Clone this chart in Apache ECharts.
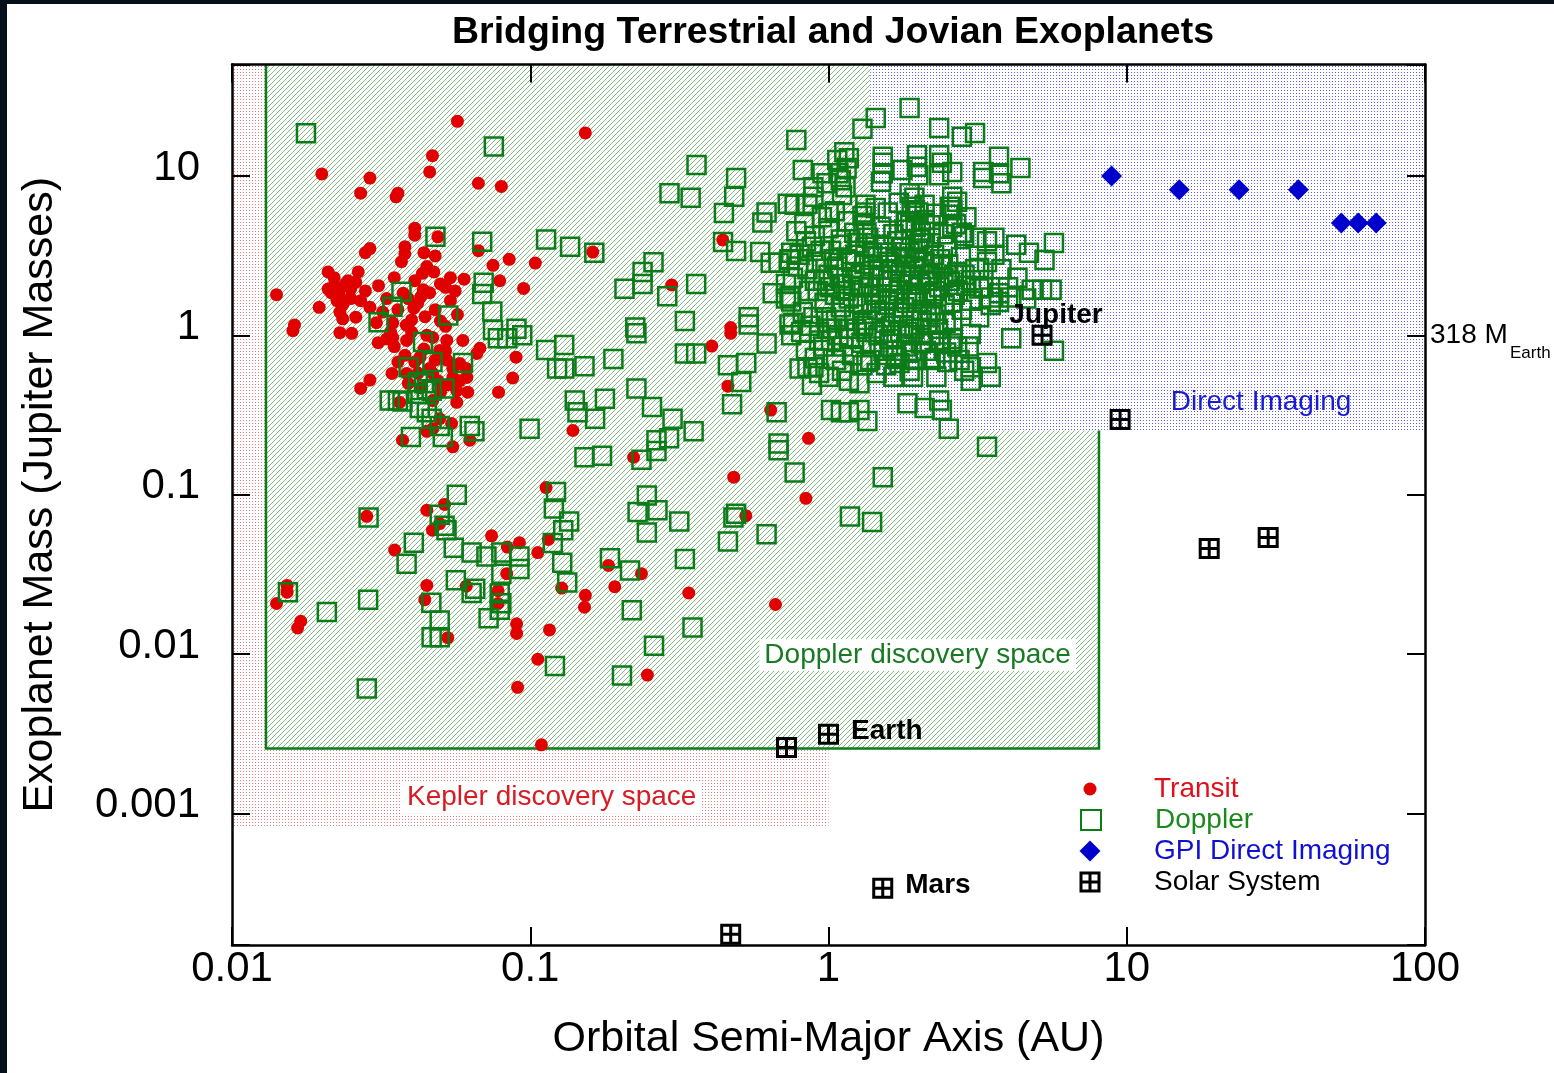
<!DOCTYPE html>
<html>
<head>
<meta charset="utf-8">
<title>Bridging Terrestrial and Jovian Exoplanets</title>
<script src="https://cdn.jsdelivr.net/npm/echarts@6/dist/echarts.min.js"></script>
<style>
  html, body { margin: 0; padding: 0; background: #fff; }
  #chart { position: absolute; left: 0; top: 0; width: 1554px; height: 1073px; }
  .edge-top { position: absolute; left: 0; top: 0; width: 1554px; height: 4px; background: #06101a; }
  .edge-left { position: absolute; left: 0; top: 0; width: 7px; height: 1073px; background: #06101a; }
</style>
</head>
<body>
<div id="chart"></div>
<div class="edge-top"></div>
<div class="edge-left"></div>
<script>
// ---- axis ranges (AU, Jupiter masses) ----
const xRange = [0.01, 100];
const yRange = [1.5e-4, 50];
const xTickLabels = ['0.01', '0.1', '1', '10', '100'];
const yTickLabels = ['0.001', '0.01', '0.1', '1', '10'];

// ---- discovery-space boxes: [aMin, aMax, mMin, mMax] ----
const keplerSpace = [0.01, 1.0, 8.2e-4, 50];
const dopplerSpace = [0.013, 8.07, 2.56e-3, 50];
const imagingSpace = [1.38, 100, 0.253, 50];

// ---- planets: [semi-major axis (AU), mass (M_Jup)] ----
const transit = [
  [0.057, 22], [0.020, 10.3], [0.029, 9.7], [0.027, 7.8], [0.036, 7.8], [0.0355, 7.4],
  [0.047, 13.4], [0.046, 10.6], [0.067, 9.0], [0.080, 8.6], [0.041, 4.7], [0.041, 4.25],
  [0.049, 4.15], [0.067, 3.4], [0.029, 3.5], [0.028, 3.3], [0.038, 3.6], [0.038, 3.25],
  [0.044, 3.3], [0.048, 3.15], [0.085, 3.0], [0.075, 2.75], [0.021, 2.5], [0.0265, 2.5],
  [0.022, 2.05], [0.024, 2.1], [0.0215, 1.85], [0.023, 1.75], [0.025, 1.95], [0.0225, 1.65],
  [0.0435, 2.45], [0.0475, 2.5], [0.054, 2.3], [0.060, 2.25], [0.041, 2.2], [0.050, 2.1],
  [0.079, 2.2], [0.095, 1.97], [0.0141, 1.8], [0.031, 2.05], [0.0196, 1.5], [0.0438, 1.93],
  [0.043, 1.75], [0.0375, 1.84], [0.027, 1.65], [0.029, 1.5], [0.054, 1.65], [0.0407, 1.48],
  [0.036, 1.45], [0.0444, 1.31], [0.023, 1.4], [0.0235, 1.27], [0.026, 1.3], [0.0162, 1.16],
  [0.0305, 1.2], [0.0346, 1.2], [0.0384, 1.16], [0.050, 1.23], [0.052, 1.14],
  [0.0346, 0.97], [0.0385, 0.93], [0.0471, 0.97], [0.0525, 0.93], [0.0594, 0.93], [0.0497, 0.805],
  [0.0427, 0.73], [0.0525, 0.70], [0.058, 0.667], [0.0344, 0.577], [0.0385, 0.577], [0.0471, 0.577],
  [0.055, 0.545], [0.0613, 0.545], [0.0567, 0.45], [0.0617, 0.44], [0.0471, 0.39], [0.0567, 0.38],
  [0.0365, 0.38], [0.0678, 0.83], [0.0662, 0.77], [0.0309, 0.90], [0.023, 1.04], [0.0252, 1.03],
  [0.016, 1.07], [0.029, 0.524], [0.027, 0.465], [0.0896, 0.73], [0.0873, 0.54], [0.0783, 0.44],
  [0.0497, 0.30], [0.0545, 0.28], [0.0471, 0.26], [0.045, 0.25], [0.0373, 0.22], [0.055, 0.20],
  [0.0627, 0.22], [0.0283, 0.0733], [0.045, 0.080], [0.0516, 0.087], [0.047, 0.060], [0.0497, 0.066],
  [0.0351, 0.045], [0.0742, 0.0553], [0.0838, 0.047], [0.092, 0.050],
  [0.0153, 0.027], [0.0153, 0.0245], [0.0141, 0.0208], [0.017, 0.0161], [0.0166, 0.0146],
  [0.045, 0.027], [0.0443, 0.022], [0.061, 0.0267], [0.0834, 0.032], [0.078, 0.025], [0.078, 0.0208],
  [0.0529, 0.0127], [0.090, 0.0155], [0.090, 0.0135], [0.0907, 0.0062],
  [0.183, 0.036], [0.192, 0.0265], [0.236, 0.032], [0.1275, 0.026], [0.153, 0.0234], [0.152, 0.0197],
  [0.116, 0.0142], [0.106, 0.0093], [0.247, 0.0074], [0.34, 0.0242], [0.664, 0.0205], [0.109, 0.0027],
  [0.406, 0.857], [0.47, 1.03], [0.46, 0.48], [0.64, 0.34], [0.139, 0.253], [0.222, 0.172],
  [0.481, 0.129], [0.113, 0.111], [0.528, 0.074], [0.115, 0.0525], [0.106, 0.0434],
  [0.153, 18.6], [0.104, 2.84], [0.162, 3.33], [0.298, 2.07], [0.442, 3.97], [0.47, 1.12],
  [0.857, 0.226], [0.84, 0.095],
  // crowded hot Jupiters
  [0.035, 0.85], [0.038, 0.75], [0.041, 0.68], [0.044, 0.82], [0.046, 0.62], [0.049, 0.52],
  [0.052, 0.80], [0.055, 0.62], [0.043, 0.47], [0.039, 0.50], [0.036, 0.68], [0.050, 0.44],
  [0.053, 0.49], [0.058, 0.52], [0.061, 0.62], [0.045, 1.0], [0.040, 1.05], [0.033, 0.95],
  [0.048, 0.70], [0.042, 0.58], [0.022, 2.3], [0.023, 1.95], [0.0245, 2.2], [0.021, 1.95],
  [0.0235, 1.55], [0.025, 1.7], [0.028, 1.9], [0.026, 2.15], [0.033, 1.7], [0.032, 1.4],
  [0.039, 1.7], [0.042, 1.6], [0.046, 1.85], [0.035, 2.3], [0.037, 2.9], [0.045, 2.7],
  [0.052, 2.0], [0.056, 1.9], [0.040, 1.25], [0.048, 1.45], [0.057, 1.35], [0.034, 1.05]
];

const doppler = [
  // hot and warm Jupiters inside 0.1 AU
  [0.0177, 18.5], [0.0755, 15.3], [0.0481, 4.16], [0.069, 3.87], [0.0698, 2.14], [0.069, 1.82],
  [0.037, 1.88], [0.0345, 1.51], [0.0531, 1.33], [0.0746, 1.41], [0.031, 1.21], [0.0899, 1.1],
  [0.075, 1.08], [0.0437, 0.91], [0.047, 0.68], [0.0391, 0.63], [0.0595, 0.67], [0.042, 0.51],
  [0.044, 0.50], [0.045, 0.46], [0.0418, 0.43], [0.0516, 0.465], [0.0467, 0.45], [0.0338, 0.39],
  [0.036, 0.39], [0.0373, 0.385], [0.0426, 0.35], [0.045, 0.33], [0.0467, 0.30], [0.0497, 0.27],
  [0.0398, 0.23], [0.0509, 0.23], [0.0627, 0.27], [0.065, 0.25], [0.0779, 0.96], [0.0838, 0.96],
  [0.094, 1.0], [0.0995, 0.26], [0.0567, 0.10], [0.0287, 0.072], [0.0497, 0.075], [0.0516, 0.064],
  [0.0524, 0.060], [0.0407, 0.050], [0.0554, 0.0465], [0.0636, 0.0434], [0.0713, 0.041], [0.080, 0.0434],
  [0.092, 0.041], [0.0385, 0.037], [0.0154, 0.0245], [0.0208, 0.0184], [0.0286, 0.022],
  [0.0563, 0.0291], [0.0636, 0.0242], [0.0654, 0.0257], [0.080, 0.032], [0.079, 0.024], [0.080, 0.0209],
  [0.079, 0.019], [0.092, 0.0343], [0.0466, 0.021], [0.0497, 0.0163], [0.0467, 0.0128], [0.0497, 0.0128],
  [0.0725, 0.0168], [0.0283, 0.0061],
  // 0.1 - 1 AU
  [0.78, 16.8], [0.361, 11.7], [0.49, 9.7], [0.293, 7.8], [0.345, 7.3], [0.483, 7.4],
  [0.446, 5.86], [0.62, 5.9], [0.60, 5.1], [0.73, 6.7], [0.77, 6.6], [0.113, 4.0],
  [0.136, 3.6], [0.164, 3.3], [0.443, 3.85], [0.49, 3.38], [0.59, 3.33], [0.64, 2.85],
  [0.68, 2.85], [0.74, 2.97], [0.75, 3.3], [0.259, 2.87], [0.238, 2.5], [0.207, 1.96],
  [0.238, 2.1], [0.36, 2.1], [0.288, 1.76], [0.65, 1.84], [0.72, 2.1], [0.74, 1.75],
  [0.75, 1.63], [0.225, 1.12], [0.33, 1.23], [0.54, 1.3], [0.54, 1.17], [0.74, 1.17],
  [0.113, 0.81], [0.13, 0.87], [0.123, 0.62], [0.13, 0.62], [0.152, 0.64], [0.19, 0.71],
  [0.227, 1.03], [0.33, 0.77], [0.36, 0.77], [0.46, 0.65], [0.53, 0.67], [0.51, 0.51],
  [0.62, 0.89], [0.75, 1.0], [0.475, 0.37], [0.67, 0.33], [0.227, 0.465], [0.256, 0.355],
  [0.30, 0.30], [0.353, 0.25], [0.141, 0.39], [0.144, 0.33], [0.165, 0.30], [0.178, 0.40],
  [0.265, 0.22], [0.292, 0.226], [0.265, 0.188], [0.236, 0.166], [0.152, 0.172], [0.174, 0.176],
  [0.68, 0.21], [0.68, 0.19], [0.77, 0.138], [0.122, 0.104], [0.12, 0.082], [0.135, 0.068],
  [0.129, 0.06], [0.119, 0.0498], [0.246, 0.099], [0.229, 0.078], [0.267, 0.08], [0.316, 0.068],
  [0.246, 0.058], [0.48, 0.072], [0.49, 0.076], [0.46, 0.051], [0.62, 0.0566], [0.33, 0.0395],
  [0.185, 0.04], [0.128, 0.0375], [0.216, 0.0335], [0.133, 0.0282], [0.219, 0.0189], [0.35, 0.0147],
  [0.26, 0.0113], [0.121, 0.00845], [0.203, 0.00735],
  // beyond 1 AU, giant planets
  [1.87, 26.7], [1.44, 23.1], [1.3, 19.8], [2.35, 20], [2.8, 17.6], [3.1, 18.6],
  [3.73, 13.2], [4.4, 11.2], [1.13, 14.1], [1.07, 12.6], [1.17, 12.9], [1.15, 11.2],
  [1.52, 13.2], [1.52, 12.1], [1.52, 10.4], [1.5, 9.2], [1.77, 10.9], [1.98, 13.5],
  [1.98, 11.4], [2.0, 10.1], [2.35, 13.5], [2.4, 12.1], [2.35, 10.1], [2.6, 10.6],
  [3.3, 10.6], [3.3, 9.7], [3.73, 10.4], [3.8, 9.0], [0.82, 10.9], [0.955, 10.4],
  [0.985, 9.0], [0.89, 8.5], [0.89, 7.4], [0.85, 6.7], [1.0, 5.85], [1.08, 10.4],
  [1.1, 9.4], [1.14, 8.5], [1.11, 7.6], [1.33, 6.6], [1.33, 5.9], [1.31, 4.9],
  [1.34, 4.4], [1.87, 7.8], [1.94, 7.3], [1.9, 6.4], [2.0, 5.9], [1.83, 5.1],
  [1.96, 4.8], [2.1, 5.3], [2.04, 4.4], [2.2, 4.1], [2.6, 7.4], [2.7, 6.9],
  [2.6, 6.1], [2.9, 5.5], [2.6, 4.8], [2.8, 4.4], [3.1, 4.1], [3.6, 4.1],
  [3.4, 2.88], [3.2, 2.65], [3.0, 2.22], [3.2, 1.97], [3.5, 1.73], [3.73, 1.84],
  [4.26, 3.7], [4.7, 3.3], [5.3, 2.97], [5.7, 3.8], [4.8, 1.93], [5.2, 1.93],
  [5.6, 1.93], [4.1, 1.73], [3.73, 1.62],
  [0.93, 0.93], [1.02, 0.93], [0.89, 0.63], [0.85, 0.63], [0.93, 0.58], [1.0, 0.55],
  [1.11, 0.60], [1.17, 0.52], [1.27, 0.50], [1.34, 0.68], [0.88, 0.49], [1.02, 0.34],
  [1.1, 0.33], [1.17, 0.33], [1.27, 0.34], [1.35, 0.29], [1.84, 0.375], [2.1, 0.35],
  [2.35, 0.39], [2.4, 0.34], [2.53, 0.26], [3.4, 0.20], [1.52, 0.129], [1.18, 0.073],
  [1.4, 0.0675], [1.64, 0.80], [1.73, 0.67], [1.87, 0.60], [1.69, 0.73], [1.9, 0.80],
  [2.04, 0.89], [2.2, 0.70], [2.5, 0.68], [2.35, 0.93], [2.6, 0.89], [3.0, 1.02],
  [3.0, 0.63], [3.4, 0.67], [3.5, 0.55], [3.0, 0.52], [4.1, 0.96], [5.7, 0.80],
  // crowded 1 - 3 AU giants
  [0.80, 3.2], [0.85, 2.6], [0.88, 3.6], [0.90, 2.2], [0.92, 1.9], [0.95, 2.9],
  [0.97, 1.6], [1.0, 2.4], [1.02, 3.4], [1.05, 1.8], [1.07, 2.7], [1.1, 1.5],
  [1.12, 2.1], [1.15, 3.0], [1.17, 1.7], [1.2, 2.5], [1.22, 1.35], [1.25, 3.8],
  [1.27, 2.0], [1.3, 1.55], [1.32, 2.8], [1.35, 1.25], [1.38, 2.3], [1.4, 3.3],
  [1.42, 1.8], [1.45, 1.45], [1.48, 2.6], [1.5, 2.0], [1.52, 3.6], [1.55, 1.2],
  [1.58, 1.65], [1.6, 2.9], [1.63, 2.2], [1.66, 1.4], [1.7, 3.9], [1.72, 1.9],
  [1.75, 2.5], [1.78, 1.15], [1.8, 3.1], [1.83, 1.6], [1.86, 2.2], [1.9, 1.3],
  [1.93, 2.7], [1.96, 1.75], [2.0, 3.5], [2.03, 2.1], [2.06, 1.45], [2.1, 2.9],
  [2.14, 1.2], [2.18, 2.4], [2.22, 1.7], [2.26, 3.2], [2.3, 1.35], [2.35, 2.0],
  [2.4, 2.7], [2.45, 1.55], [2.5, 3.6], [2.55, 2.2], [2.6, 1.25], [2.65, 1.8],
  [2.7, 2.5], [2.8, 1.45], [2.9, 2.05], [3.0, 1.65], [3.1, 2.6], [3.2, 1.3],
  [3.3, 2.0], [3.5, 1.55], [0.82, 1.4], [0.87, 1.15], [0.93, 1.05], [0.98, 1.3],
  [1.03, 1.1], [1.08, 1.0], [1.13, 1.25], [1.18, 0.95], [1.24, 1.1], [1.29, 0.9],
  [1.34, 1.05], [1.4, 0.85], [1.47, 1.0], [1.53, 0.8], [1.6, 0.95], [1.68, 0.75],
  [1.74, 1.05], [1.82, 0.85], [1.88, 1.0], [1.95, 0.7], [2.05, 0.9], [2.12, 0.8],
  [2.2, 1.0], [2.28, 0.72], [2.38, 0.9], [2.48, 0.78], [2.6, 0.95], [2.75, 0.7],
  [2.95, 0.85], [0.78, 4.5], [0.83, 5.0], [0.9, 4.2], [0.95, 5.5], [1.0, 4.7],
  [1.05, 6.0], [1.1, 4.0], [1.16, 5.2], [1.22, 4.4], [1.3, 5.6], [1.36, 4.1],
  [1.44, 6.3], [1.5, 4.8], [1.58, 5.9], [1.65, 4.3], [1.72, 6.8], [1.8, 4.6],
  [1.88, 5.2], [1.95, 6.1], [2.02, 4.0], [2.1, 6.6], [2.2, 4.9], [2.3, 5.8],
  [2.42, 4.3], [2.55, 6.4], [2.68, 5.0], [2.85, 4.2], [3.4, 3.9], [3.6, 3.2],
  [3.8, 2.6], [4.0, 2.0], [4.3, 2.3], [4.6, 1.7], [0.76, 2.3], [0.72, 1.7], [0.74, 3.0],
  [0.76, 1.2], [0.79, 2.7], [0.81, 1.05], [0.84, 3.9], [0.86, 1.9], [0.89, 1.3],
  [0.91, 2.9], [0.94, 3.4], [0.96, 2.2], [0.99, 1.1], [1.01, 2.0], [1.04, 3.0],
  [1.06, 1.25], [1.09, 2.3], [1.11, 3.7], [1.14, 1.9], [1.16, 1.1], [1.19, 2.9],
  [1.21, 2.05], [1.23, 3.2], [1.26, 1.6], [1.28, 2.4], [1.31, 1.15], [1.33, 3.6],
  [1.36, 2.0], [1.39, 1.6], [1.41, 2.7], [1.43, 1.05], [1.46, 3.1], [1.49, 1.7],
  [1.51, 2.35], [1.54, 1.4], [1.57, 3.3], [1.59, 2.0], [1.62, 1.15], [1.64, 2.6],
  [1.67, 1.8], [1.69, 3.1], [1.71, 1.3], [1.74, 2.1], [1.77, 3.6], [1.79, 1.5],
  [1.81, 2.7], [1.84, 1.05], [1.87, 3.3], [1.89, 1.8], [1.92, 2.4], [1.94, 1.1],
  [1.97, 3.0], [1.99, 1.6], [2.02, 2.6], [2.05, 1.25], [2.08, 3.8], [2.11, 1.8],
  [2.16, 2.2], [2.2, 1.4], [2.24, 2.8], [2.28, 1.9], [2.33, 1.1], [2.37, 3.0],
  [2.43, 2.3], [2.47, 1.2], [2.52, 2.8], [2.58, 1.6], [2.63, 2.4], [2.72, 1.9],
  [2.78, 3.1], [2.86, 2.4], [0.80, 0.62], [0.84, 0.8], [0.9, 0.72], [0.96, 0.85],
  [1.06, 0.7], [1.12, 0.85], [1.2, 0.75], [1.3, 0.65], [1.38, 0.7], [1.45, 0.58],
  [1.56, 0.65], [1.65, 0.55], [1.92, 0.55], [2.3, 0.55], [2.7, 0.85], [2.85, 0.6]
];

const gpiImaging = [
  [8.9, 10.0], [15.0, 8.2], [23.8, 8.2], [37.6, 8.2], [52.4, 5.07], [59.7, 5.07], [68.6, 5.07]
];

const solarNames = ['Mercury', 'Venus', 'Earth', 'Mars', 'Jupiter', 'Saturn', 'Uranus', 'Neptune'];
const solarSystem = [
  [0.47, 1.75e-4], [0.723, 2.6e-3], [1.0, 3.15e-3], [1.52, 3.4e-4],
  [5.2, 1.0], [9.5, 0.297], [18.9, 0.046], [29.8, 0.054]
];
const solarLabelled = ['Earth', 'Mars', 'Jupiter'];

// ---- region captions: [a, m] anchor at caption centre ----
const captionNames = ['Kepler discovery space', 'Doppler discovery space', 'Direct Imaging'];
const captionAnchors = [[0.118, 1.26e-3], [1.99, 0.0099], [28.2, 0.38]];
const captionColors = ['#d81c24', '#1a7a24', '#1a1ad4'];

// ---- styling ----
const FONT = '"Liberation Sans", Arial, Helvetica, sans-serif';
const RED = '#e00000';
const GREEN = '#0c7c18';
const BLUE = '#0000cc';

function tile(w, h, paint) {
  const c = document.createElement('canvas');
  c.width = w; c.height = h;
  const ctx = c.getContext('2d');
  ctx.fillStyle = '#ffffff';
  ctx.fillRect(0, 0, w, h);
  paint(ctx);
  return { image: c, repeat: 'repeat' };
}
const pinkDots = tile(3, 3, ctx => { ctx.fillStyle = '#e57a88'; ctx.fillRect(0, 0, 1, 1); });
const blueDots = tile(3, 3, ctx => { ctx.fillStyle = '#5c5cee'; ctx.fillRect(0, 0, 1, 1); });
const greenHatch = tile(5, 5, ctx => {
  ctx.strokeStyle = 'rgba(20,130,20,0.55)';
  ctx.lineWidth = 1;
  ctx.beginPath();
  ctx.moveTo(0, 5); ctx.lineTo(5, 0);
  ctx.moveTo(-1, 1); ctx.lineTo(1, -1);
  ctx.moveTo(4, 6); ctx.lineTo(6, 4);
  ctx.stroke();
});

function regionSeries(name, box, fill, border) {
  return {
    type: 'custom',
    name: name,
    silent: true,
    z: 1,
    data: [box],
    encode: { x: [0, 1], y: [2, 3] },
    renderItem: function (params, api) {
      const tl = api.coord([api.value(0), api.value(3)]);
      const br = api.coord([api.value(1), api.value(2)]);
      const children = [{
        type: 'rect',
        shape: { x: tl[0], y: tl[1], width: br[0] - tl[0], height: br[1] - tl[1] },
        style: { fill: fill }
      }];
      if (border) {
        children.push({
          type: 'polyline',
          shape: { points: [[tl[0], tl[1]], [tl[0], br[1]], [br[0], br[1]], [br[0], tl[1]]] },
          style: { stroke: border, lineWidth: 2.5, fill: null }
        });
      }
      return { type: 'group', children: children };
    }
  };
}

function isDecade(v) {
  const l = Math.log10(v);
  return Math.abs(l - Math.round(l)) < 1e-6;
}
function findTick(list, v) {
  if (!isDecade(v)) return '';
  const idx = list.findIndex(s => Math.abs(Math.log10(parseFloat(s)) - Math.log10(v)) < 1e-6);
  return idx >= 0 ? list[idx] : '';
}

const axisBase = {
  type: 'log',
  logBase: 10,
  z: 10,
  axisLine: { show: true, onZero: false, lineStyle: { color: '#000', width: 2.5 } },
  axisTick: { show: true, inside: true, length: 18, lineStyle: { color: '#000', width: 2 } },
  minorTick: { show: false },
  splitLine: { show: false },
  minorSplitLine: { show: false }
};

const crossSymbol = 'path://M0,0H21V21H0Z M3,3V9H9V3Z M12,3V9H18V3Z M3,12V18H9V12Z M12,12V18H18V12Z';

const legendRows = [
  { name: 'Transit', size: 13, y: 789, color: '#e0101a' },
  { name: 'Doppler', size: 20, y: 820, color: '#1b8a1b' },
  { name: 'GPI Direct Imaging', size: 21, y: 851, color: '#1010d2' },
  { name: 'Solar System', size: 21, y: 882, color: '#000000' }
];

const chart = echarts.init(document.getElementById('chart'), null, { renderer: 'canvas' });

const option = {
  animation: false,
  backgroundColor: '#ffffff',
  textStyle: { fontFamily: FONT },
  title: {
    text: 'Bridging Terrestrial and Jovian Exoplanets',
    left: 447,
    top: 9,
    textStyle: { fontFamily: FONT, fontSize: 37.5, fontWeight: 'bold', color: '#000' }
  },
  grid: { left: 232, right: 129, top: 64.5, bottom: 128, containLabel: false },
  legend: legendRows.map(r => ({
    data: [r.name],
    left: 1090 - r.size / 2,
    top: r.y - 15,
    orient: 'vertical',
    padding: 0,
    itemGap: 0,
    itemWidth: r.size,
    itemHeight: r.size,
    selectedMode: false,
    textStyle: {
      fontFamily: FONT, fontSize: 28, lineHeight: 30, color: r.color,
      padding: [0, 0, 0, 59 - r.size / 2]
    }
  })),
  xAxis: [
    Object.assign({}, axisBase, {
      position: 'bottom', min: xRange[0], max: xRange[1],
      axisLabel: {
        show: true, fontFamily: FONT, fontSize: 42, color: '#000', margin: 3,
        formatter: v => findTick(xTickLabels, v)
      },
      name: 'Orbital Semi-Major Axis (AU)',
      nameLocation: 'middle',
      nameGap: 73,
      nameTextStyle: { fontFamily: FONT, fontSize: 43, color: '#000' }
    }),
    Object.assign({}, axisBase, {
      position: 'top', min: xRange[0], max: xRange[1], axisLabel: { show: false }
    })
  ],
  yAxis: [
    Object.assign({}, axisBase, {
      position: 'left', min: yRange[0], max: yRange[1], splitNumber: 6,
      axisLabel: {
        show: true, color: '#000', margin: 32,
        formatter: v => {
          const t = findTick(yTickLabels, v);
          return t ? '{t|' + t + '}' : '';
        },
        rich: {
          t: { fontFamily: FONT, fontSize: 42, color: '#000', padding: [0, 0, 16, 0] }
        }
      },
      name: 'Exoplanet Mass (Jupiter Masses)',
      nameLocation: 'middle',
      nameGap: 170,
      nameRotate: 90,
      nameTextStyle: { fontFamily: FONT, fontSize: 43, color: '#000', padding: [0, 0, 0, 20] }
    }),
    Object.assign({}, axisBase, {
      position: 'right', min: yRange[0], max: yRange[1], splitNumber: 6, axisLabel: { show: false }
    })
  ],
  series: [
    regionSeries('Kepler discovery space', keplerSpace, pinkDots, null),
    regionSeries('Doppler discovery space', dopplerSpace, greenHatch, GREEN),
    regionSeries('Direct Imaging space', imagingSpace, blueDots, null),
    {
      type: 'scatter', name: 'Transit', z: 3,
      symbol: 'circle', symbolSize: 13,
      itemStyle: { color: RED, opacity: 1 },
      data: transit
    },
    {
      type: 'scatter', name: 'Doppler', z: 4,
      symbol: 'rect', symbolSize: 18,
      itemStyle: { color: 'rgba(0,0,0,0)', borderColor: GREEN, borderWidth: 2.5, opacity: 1 },
      data: doppler
    },
    {
      type: 'scatter', name: 'GPI Direct Imaging', z: 5,
      symbol: 'diamond', symbolSize: 21,
      itemStyle: { color: BLUE, opacity: 1 },
      data: gpiImaging
    },
    {
      type: 'scatter', name: 'Solar System', z: 6,
      symbol: crossSymbol, symbolSize: 21,
      itemStyle: { color: '#000', opacity: 1 },
      data: solarSystem.map((p, i) => {
        const nm = solarNames[i];
        const item = { name: nm, value: p };
        if (solarLabelled.indexOf(nm) >= 0) {
          const onTop = nm === 'Jupiter';
          item.label = {
            show: true,
            formatter: nm,
            position: onTop ? 'top' : 'right',
            distance: onTop ? 0 : 12,
            offset: onTop ? [14, 4] : [0, -3],
            fontFamily: FONT, fontSize: 28, fontWeight: 'bold', color: '#000'
          };
        }
        return item;
      })
    },
    {
      type: 'scatter', name: 'captions', z: 7, silent: true,
      symbol: 'circle', symbolSize: 0,
      itemStyle: { opacity: 1 },
      data: captionAnchors.map((p, i) => ({
        name: captionNames[i],
        value: p,
        itemStyle: { opacity: 1 },
        label: {
          show: true,
          position: 'inside',
          formatter: captionNames[i],
          fontFamily: FONT,
          fontSize: 28,
          opacity: 1,
          color: captionColors[i],
          backgroundColor: i < 2 ? '#ffffff' : 'transparent',
          padding: [2, 5]
        }
      }))
    }
  ]
};

chart.setOption(option);

// mass of Jupiter expressed in Earth masses, on the right-hand frame
const anchor = chart.convertToPixel({ xAxisIndex: 0, yAxisIndex: 0 }, [xRange[1], 1]);
chart.setOption({
  graphic: [
    {
      type: 'text', x: anchor[0] + 5, y: anchor[1], z: 20,
      style: { text: '318 M', fontFamily: FONT, fontSize: 28, fill: '#000', verticalAlign: 'middle' }
    },
    {
      type: 'text', x: anchor[0] + 85, y: anchor[1] + 18, z: 20,
      style: { text: 'Earth', fontFamily: FONT, fontSize: 17, fill: '#000', verticalAlign: 'middle' }
    }
  ]
});
</script>
</body>
</html>
